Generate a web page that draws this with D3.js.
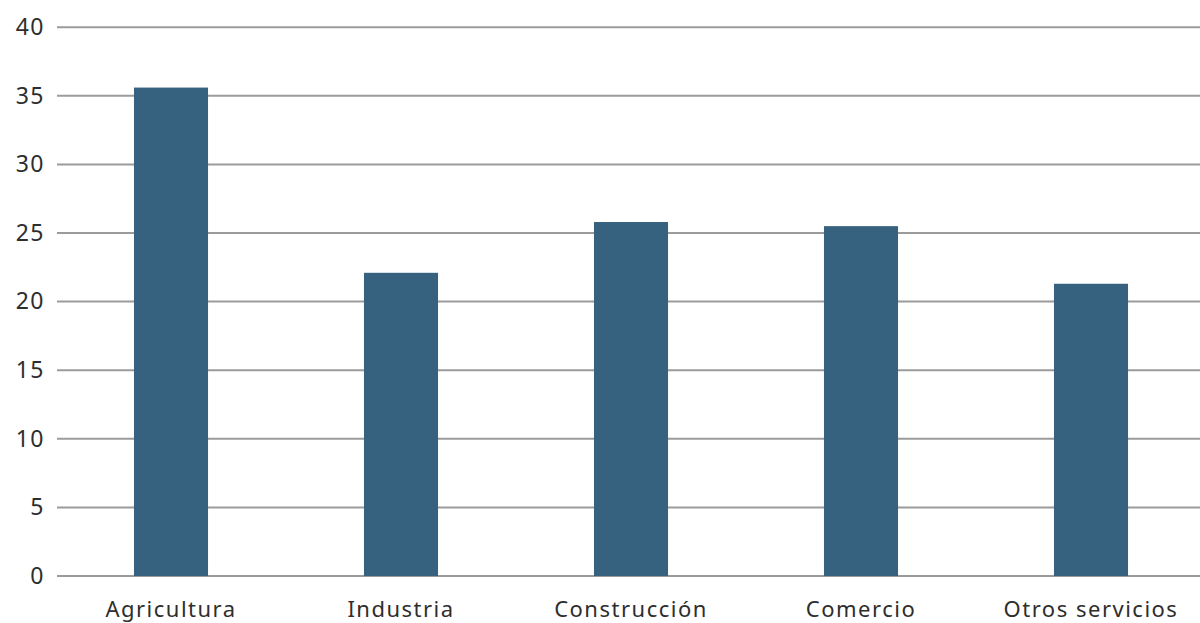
<!DOCTYPE html>
<html>
<head>
<meta charset="utf-8">
<script src="https://cdn.jsdelivr.net/npm/d3@7"></script>
<style>
  html, body { margin: 0; padding: 0; background: #fff; overflow: hidden; }
  svg { display: block; }
  .tick text { font-family: "Noto Sans", sans-serif; fill: #2e2e2e; }
</style>
</head>
<body>
<svg id="chart" width="1200" height="623"></svg>
<script>
// Sector categories and their values
const categories = ["Agricultura", "Industria", "Construcción", "Comercio", "Otros servicios"];
const values = [35.6, 22.1, 25.8, 25.5, 21.3];
const yTicks = [0, 5, 10, 15, 20, 25, 30, 35, 40];

const svg = d3.select("#chart");
const gridLeft = 57, gridRight = 1200;
const yTop = 27.2, yBottom = 576;

const x = d3.scaleBand()
  .domain(categories)
  .range([56, 1206])
  .paddingInner(0.678)
  .paddingOuter(0.339);

const y = d3.scaleLinear().domain([0, 40]).range([yBottom, yTop]);

// Horizontal gridlines
svg.append("g")
  .selectAll("line")
  .data(yTicks)
  .join("line")
  .attr("x1", gridLeft)
  .attr("x2", gridRight)
  .attr("y1", d => y(d))
  .attr("y2", d => y(d))
  .attr("stroke", "#9b9b9b")
  .attr("stroke-width", 2);

// Bars
svg.append("g")
  .selectAll("rect")
  .data(categories)
  .join("rect")
  .attr("x", d => x(d))
  .attr("width", x.bandwidth())
  .attr("y", (d, i) => y(values[i]))
  .attr("height", (d, i) => y(0) - y(values[i]))
  .attr("fill", "#37627f");

// Y axis labels
const yAxis = svg.append("g")
  .attr("transform", `translate(${gridLeft}, 0)`)
  .call(d3.axisLeft(y).tickValues(yTicks).tickSize(0).tickPadding(12));
yAxis.select(".domain").remove();
yAxis.selectAll("text").attr("font-size", 23).style("letter-spacing", "1.5px");

// X axis labels
const xAxis = svg.append("g")
  .attr("transform", `translate(0, ${yBottom})`)
  .call(d3.axisBottom(x).tickSize(0).tickPadding(25));
xAxis.select(".domain").remove();
xAxis.selectAll("text").attr("font-size", 22).style("letter-spacing", "1.5px");
</script>
</body>
</html>
